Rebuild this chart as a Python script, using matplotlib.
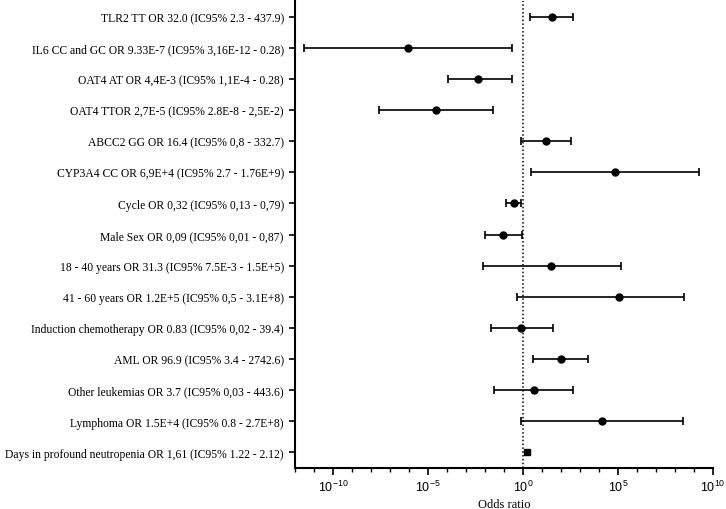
import numpy as np
import matplotlib
matplotlib.use("Agg")
import matplotlib.pyplot as plt
from matplotlib.ticker import LogLocator, FixedLocator, LogFormatterMathtext, NullFormatter

labels = [
    "TLR2 TT OR 32.0 (IC95% 2.3 - 437.9)",
    "IL6 CC and GC OR 9.33E-7 (IC95% 3,16E-12 - 0.28)",
    "OAT4 AT OR 4,4E-3 (IC95% 1,1E-4 - 0.28)",
    "OAT4 TTOR 2,7E-5 (IC95% 2.8E-8 - 2,5E-2)",
    "ABCC2 GG OR 16.4 (IC95% 0,8 - 332.7)",
    "CYP3A4 CC OR 6,9E+4 (IC95% 2.7 - 1.76E+9)",
    "Cycle OR 0,32 (IC95% 0,13 - 0,79)",
    "Male Sex OR 0,09 (IC95% 0,01 - 0,87)",
    "18 - 40 years OR 31.3 (IC95% 7.5E-3 - 1.5E+5)",
    "41 - 60 years OR 1.2E+5 (IC95% 0,5 - 3.1E+8)",
    "Induction chemotherapy OR 0.83 (IC95% 0,02 - 39.4)",
    "AML OR 96.9 (IC95% 3.4 - 2742.6)",
    "Other leukemias OR 3.7 (IC95% 0,03 - 443.6)",
    "Lymphoma OR 1.5E+4 (IC95% 0.8 - 2.7E+8)",
    "Days in profound neutropenia OR 1,61 (IC95% 1.22 - 2.12)",
]
odds = np.array([32.0, 9.33e-7, 4.4e-3, 2.7e-5, 16.4, 6.9e4, 0.32, 0.09,
                 31.3, 1.2e5, 0.83, 96.9, 3.7, 1.5e4, 1.61])
lower = np.array([2.3, 3.16e-12, 1.1e-4, 2.8e-8, 0.8, 2.7, 0.13, 0.01,
                  7.5e-3, 0.5, 0.02, 3.4, 0.03, 0.8, 1.22])
upper = np.array([437.9, 0.28, 0.28, 2.5e-2, 332.7, 1.76e9, 0.79, 0.87,
                  1.5e5, 3.1e8, 39.4, 2742.6, 443.6, 2.7e8, 2.12])

n = len(labels)
ypos = np.arange(n)[::-1]

plt.rcParams["mathtext.fontset"] = "custom"
plt.rcParams["mathtext.rm"] = "Liberation Sans"

fig = plt.figure(figsize=(7.26, 5.10), dpi=100)
ax = fig.add_axes([0.4063, 0.0804, 0.5757, 0.9156])

# dotted reference line at OR = 1
ax.axvline(1, color="black", linestyle=(0, (1, 1.5)), linewidth=1.1, zorder=1)

err = np.vstack([odds - lower, upper - odds])
circ = np.arange(n) < n - 1
ax.errorbar(odds[circ], ypos[circ], xerr=err[:, circ], fmt="o", color="black",
            markersize=5, elinewidth=1.2, capsize=3, capthick=1.2, zorder=3)
# last row drawn with a square marker
ax.errorbar(odds[~circ], ypos[~circ], xerr=err[:, ~circ], fmt="s", color="black",
            markersize=5, elinewidth=1.2, capsize=2, capthick=1.2, zorder=3)

ax.set_xscale("log")
ax.set_xlim(1e-12, 1e10)
ax.set_ylim(-0.5, n - 0.5)
ax.xaxis.set_major_locator(FixedLocator([1e-10, 1e-5, 1e0, 1e5, 1e10]))
ax.xaxis.set_major_formatter(LogFormatterMathtext())
ax.xaxis.set_minor_locator(LogLocator(base=10, subs=(1.0,), numticks=40))
ax.xaxis.set_minor_formatter(NullFormatter())

ax.set_yticks(ypos)
ax.set_yticklabels(labels, family="Liberation Serif", fontsize=8.4)
for t in ax.get_xticklabels():
    t.set_family("Liberation Sans")
    t.set_fontsize(9)

for s in ["top", "right"]:
    ax.spines[s].set_visible(False)
for s in ["left", "bottom"]:
    ax.spines[s].set_linewidth(1.5)

ax.tick_params(axis="y", length=4, width=1.2, pad=4)
ax.tick_params(axis="x", which="major", length=5, width=1.2, pad=3)
ax.tick_params(axis="x", which="minor", length=3, width=1.0)

ax.set_xlabel("Odds ratio", family="Liberation Serif", fontsize=9, labelpad=3)

fig.savefig("out.png", dpi=100)
